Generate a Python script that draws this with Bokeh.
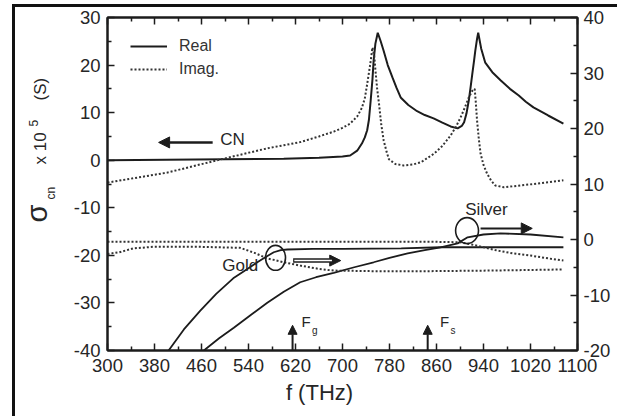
import numpy as np
from bokeh.plotting import figure
from bokeh.models import (Range1d, LinearAxis, FixedTicker, Label, Arrow, NormalHead,
                          Legend, LegendItem)
from bokeh.embed import file_html
from bokeh.resources import INLINE

FONT = "Liberation Sans"

# ---- CN conductance (left axis, sigma_cn x 1e5 S) ----
cn_real_f = [300, 400, 500, 600, 660, 700, 713, 725, 733, 738, 742, 745, 748, 751, 753, 756, 760,
             765, 770, 777, 785, 792, 799, 812, 827, 840, 855, 870, 884, 896,
             903, 907, 911, 915, 918, 921, 924, 926, 929, 931,
             936, 943, 955, 969, 985, 1000, 1012, 1025, 1050, 1076]
cn_real_v = [0.0, 0.1, 0.2, 0.3, 0.5, 0.8, 1.0, 2.0, 3.5, 4.8, 6.3, 8.5, 12.6, 17.0, 21.0, 24.5, 26.8,
             25.0, 23.0, 20.0, 17.4, 15.2, 13.2, 11.6, 10.3, 9.5, 8.8, 7.9, 7.1, 6.7,
             7.2, 8.0, 9.8, 12.6, 15.3, 18.2, 21.0, 23.0, 25.5, 26.8,
             23.5, 20.5, 18.5, 16.8, 15.0, 13.6, 12.3, 11.1, 9.4, 7.7]
cn_imag_f = [300, 402, 487, 572, 628, 660, 685, 700, 713, 725, 733, 738, 742, 747, 751, 754, 756,
             759, 762, 766, 770, 775, 779, 790, 804, 820, 834, 856, 870, 884, 893, 901, 908,
             915, 921, 925, 927, 929, 932, 935, 940, 946, 953, 960, 975, 1003, 1040, 1076]
cn_imag_v = [-4.7, -2.6, 0.0, 2.5, 3.8, 5.0, 6.0, 6.8, 7.7, 9.2, 11.0, 13.0, 16.0, 20.0, 23.7, 22.0, 19.0,
             15.0, 12.0, 7.5, 4.2, 1.8, 0.2, -0.8, -1.1, -0.9, -0.4, 1.4, 3.0, 5.2, 7.0, 9.0, 11.0,
             13.2, 14.6, 15.0, 12.0, 8.4, 4.5, 1.4, -1.0, -2.8, -4.3, -5.3, -5.7, -5.3, -4.8, -4.2]

# ---- Gold / Silver (right axis) ----
gold_real_f = [404, 430, 458, 485, 514, 540, 555, 570, 583, 595, 606, 650, 700, 800, 867, 950, 1076]
gold_real_v = [-20.0, -16.2, -12.8, -9.8, -7.0, -5.2, -4.1, -3.1, -2.3, -1.9, -1.8, -1.7, -1.7,
               -1.6, -1.4, -1.4, -1.4]
gold_imag_f = [300, 320, 344, 380, 450, 526, 550, 572, 600, 628, 660, 685, 750, 850, 950, 1076]
gold_imag_v = [-2.6, -2.3, -1.6, -1.3, -1.3, -1.5, -2.4, -3.4, -4.1, -4.7, -5.3, -5.6, -5.7, -5.7,
               -5.6, -5.4]
silver_real_f = [464, 490, 515, 545, 572, 600, 628, 655, 685, 720, 753, 780, 811, 840, 867, 896,
                 913, 940, 969, 1020, 1076]
silver_real_v = [-20.0, -17.8, -15.9, -13.5, -11.4, -9.4, -7.7, -6.8, -6.0, -5.0, -4.1, -3.3, -2.5,
                 -1.9, -1.4, -0.7, 0.4, 0.9, 1.1, 0.9, 0.4]
silver_imag_f = [300, 500, 700, 850, 900, 920, 940, 964, 990, 1020, 1050, 1076]
silver_imag_v = [-0.4, -0.4, -0.4, -0.4, -0.5, -0.9, -1.4, -2.0, -2.5, -2.9, -3.4, -3.8]

# ---- ticks ----
x_ticks = [300, 380, 460, 540, 620, 700, 780, 860, 940, 1020, 1100]
x_minor = [340, 420, 500, 580, 660, 740, 820, 900, 980, 1060]
left_ticks = [-40, -30, -20, -10, 0, 10, 20, 30]
left_minor = [-35, -25, -15, -5, 5, 15, 25]
right_ticks = [-20, -10, 0, 10, 20, 30, 40]
right_minor = [-15, -5, 5, 15, 25, 35]

# ---- annotation anchors (data units) ----
gold_mark = (586, -3.3)
silver_mark = (912, 1.6)
fg_freq, fs_freq = 615, 845

INK = "#1c1c1c"
TXT = "#262626"

p = figure(width=617, height=416, x_range=Range1d(300, 1100), y_range=Range1d(-40, 30),
           output_backend="svg", toolbar_location=None,
           min_border_left=107, min_border_right=40, min_border_top=17, min_border_bottom=66)
p.extra_y_ranges = {"right": Range1d(-20, 40)}
p.add_layout(LinearAxis(y_range_name="right"), "right")
p.add_layout(LinearAxis(), "above")
p.xgrid.visible = False
p.ygrid.visible = False
p.outline_line_color = INK
p.outline_line_width = 2
p.background_fill_color = "white"
p.border_fill_alpha = 0
# outer frame of the scanned figure (top and left edges), painted behind the canvas
p.styles = {
    "background-color": "white",
    "background-image": "linear-gradient(#111,#111), linear-gradient(#111,#111)",
    "background-size": "3px 412px, 605px 3px",
    "background-position": "12px 4px, 12px 4px",
    "background-repeat": "no-repeat",
}


def style(ax, standoff=7):
    ax.axis_line_color = INK
    ax.axis_line_width = 2
    ax.major_tick_in = 7
    ax.major_tick_out = 0
    ax.minor_tick_in = 4
    ax.minor_tick_out = 0
    ax.major_tick_line_color = INK
    ax.minor_tick_line_color = INK
    ax.major_tick_line_width = 1.5
    ax.minor_tick_line_width = 1.5
    ax.major_label_text_font = FONT
    ax.major_label_text_font_size = "18.5px"
    ax.major_label_text_color = TXT
    ax.major_label_standoff = standoff


bottom = p.below[0]
left = p.left[0]
right = p.right[0]
top = p.above[0]
bottom.ticker = FixedTicker(ticks=x_ticks, minor_ticks=x_minor)
top.ticker = FixedTicker(ticks=x_ticks, minor_ticks=x_minor)
left.ticker = FixedTicker(ticks=left_ticks, minor_ticks=left_minor)
right.ticker = FixedTicker(ticks=right_ticks, minor_ticks=right_minor)
left.major_label_overrides = {t: str(t) for t in left_ticks}
right.major_label_overrides = {t: str(t) for t in right_ticks}
style(bottom, 8)
style(left, 7)
style(right, 6)
style(top, 0)
top.major_label_text_font_size = "1px"
top.major_label_text_alpha = 0

# ---- curves ----
r_real = p.line(cn_real_f, cn_real_v, line_color=INK, line_width=2)
r_imag = p.line(cn_imag_f, cn_imag_v, line_color="#333333", line_width=2, line_dash="2 2")
p.line(gold_real_f, gold_real_v, line_color=INK, line_width=1.8, y_range_name="right")
p.line(silver_real_f, silver_real_v, line_color=INK, line_width=1.8, y_range_name="right")
p.line(gold_imag_f, gold_imag_v, line_color="#333333", line_width=2, line_dash="2 2",
       y_range_name="right")
p.line(silver_imag_f, silver_imag_v, line_color="#333333", line_width=2, line_dash="2 2",
       y_range_name="right")

# ellipse markers
p.ellipse(x=[gold_mark[0]], y=[gold_mark[1]], width=34, height=4.5, fill_color=None,
          line_color=INK, line_width=1.6, y_range_name="right")
p.ellipse(x=[silver_mark[0]], y=[silver_mark[1]], width=39, height=4.7, fill_color=None,
          line_color=INK, line_width=1.6, y_range_name="right")

# arrows
p.add_layout(Arrow(end=NormalHead(size=11, fill_color=INK, line_color=INK),
                   x_start=479, y_start=3.74, x_end=387, y_end=3.74,
                   line_color=INK, line_width=2.5))
p.add_layout(Arrow(end=NormalHead(size=11, fill_color=INK, line_color=INK),
                   x_start=616, y_start=-3.8, x_end=697, y_end=-3.8,
                   line_color=INK, line_width=4.5, y_range_name="right"))
p.add_layout(Arrow(end=None, x_start=618, y_start=-3.8, x_end=682, y_end=-3.8,
                   line_color="white", line_width=1.5, y_range_name="right"))
p.add_layout(Arrow(end=NormalHead(size=11, fill_color=INK, line_color=INK),
                   x_start=935, y_start=2.0, x_end=1023, y_end=2.0,
                   line_color=INK, line_width=2, y_range_name="right"))
for fq in (fg_freq, fs_freq):
    p.add_layout(Arrow(end=NormalHead(size=9, fill_color=INK, line_color=INK),
                       x_start=fq, y_start=-40, x_end=fq, y_end=-34.7,
                       line_color=INK, line_width=2))


def txt(x, y, t, size="17px", align="left", baseline="middle", rng="default"):
    p.add_layout(Label(x=x, y=y, text=t, text_font=FONT, text_font_size=size,
                       text_color=TXT, text_align=align, text_baseline=baseline,
                       y_range_name=rng))


txt(492, 4.4, "CN")
txt(526, -4.7, "Gold", align="center", rng="right")
txt(945, 5.4, "Silver", align="center", rng="right")
txt(630, -33.9, "F", size="15px")
txt(648, -35.7, "g", size="10px")
txt(866, -33.9, "F", size="15px")
txt(884, -35.7, "s", size="10px")

# legend
legend = Legend(items=[LegendItem(label="Real", renderers=[r_real]),
                       LegendItem(label="Imag.", renderers=[r_imag])],
                location=(23, 271), border_line_color=None, background_fill_alpha=0,
                label_text_font=FONT, label_text_font_size="16px", label_text_color="#333333",
                glyph_width=37, glyph_height=20, label_height=20, label_standoff=12,
                spacing=3, padding=10, margin=0)
p.add_layout(legend)


# axis titles: canvas units, kept in side panels (not clipped to the frame)
def clabel(x, y, t, size, side, angle=0.0, align="left", baseline="middle"):
    p.add_layout(Label(x=x, y=y, x_units="canvas", y_units="canvas", text=t, angle=angle,
                       text_font=FONT, text_font_size=size, text_color=TXT,
                       text_align=align, text_baseline=baseline), side)


VERT = np.pi / 2
clabel(36, 222, "σ", "29px", "left", angle=VERT)
clabel(40, 164, "x 10", "17px", "left", angle=VERT)
clabel(40, 100, "(S)", "17px", "left", angle=VERT)
clabel(50, 199, "cn", "12px", "above", angle=VERT)
clabel(33, 126, "5", "12px", "below", angle=VERT)
clabel(319, 392, "f (THz)", "22px", "below", align="center")

open("out.html", "w").write(file_html(p, INLINE))
